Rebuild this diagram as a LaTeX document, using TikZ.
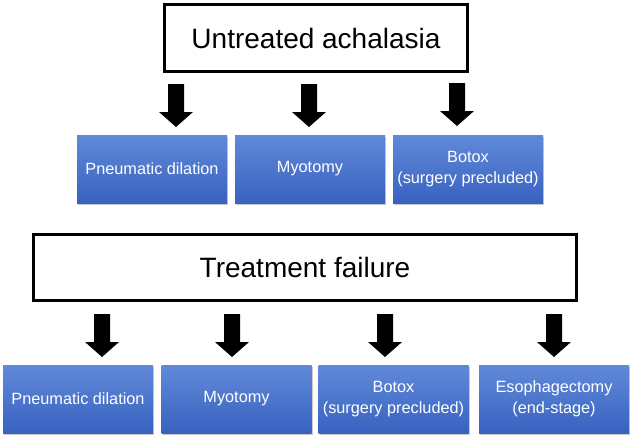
\documentclass[tikz,border=0pt]{standalone}
\usepackage{fontspec}
\setmainfont{Liberation Sans}
\usetikzlibrary{shadows}
\definecolor{boxtop}{HTML}{6189D9}
\definecolor{boxbot}{HTML}{3862C0}
\tikzset{
  titlebox/.style={draw=black, line width=3pt, fill=white, inner sep=0pt,
    font=\fontsize{28}{32}\selectfont},
  bluebox/.style={minimum width=150pt, minimum height=68pt, inner sep=0pt,
    top color=boxtop, bottom color=boxbot, text=white, align=center,
    font=\fontsize{16.3}{21}\selectfont,
    drop shadow={shadow xshift=1.2pt, shadow yshift=-1.5pt, opacity=0.35, fill=black!60}},
  downarrow/.pic={\fill[black] (-8,0) -- (8,0) -- (8,28) -- (17,28) -- (0,43)
    -- (-17,28) -- (-8,28) -- cycle;}
}
\begin{document}
\begin{tikzpicture}[x=1pt,y=-1pt]
\useasboundingbox (0,0) rectangle (633,439);
% top title
\node[titlebox, minimum width=303pt, minimum height=67pt] (t1) at (316,38) {Untreated achalasia};
% top boxes
\node[bluebox] (p1) at (152,169) {Pneumatic dilation};
\node[bluebox] (m1) at (310,169) {Myotomy};
\node[bluebox] (b1) at (468,169) {Botox\\(surgery precluded)};
% top arrows
\coordinate (a1) at (176,84);
\coordinate (a2) at (309,84);
\coordinate (a3) at (457,83);
\pic at (a1) {downarrow};
\pic at (a2) {downarrow};
\pic at (a3) {downarrow};
% bottom title
\node[titlebox, minimum width=543pt, minimum height=66pt] (t2) at (305,267.5) {Treatment failure};
% bottom boxes
\node[bluebox] (p2) at (78,399) {Pneumatic dilation};
\node[bluebox] (m2) at (236.5,399) {Myotomy};
\node[bluebox] (b2) at (393.5,399) {Botox\\(surgery precluded)};
\node[bluebox] (e2) at (554,399) {Esophagectomy\\(end-stage)};
% bottom arrows
\coordinate (c1) at (102,314);
\coordinate (c2) at (232,314);
\coordinate (c3) at (385,314);
\coordinate (c4) at (554,314);
\pic at (c1) {downarrow};
\pic at (c2) {downarrow};
\pic at (c3) {downarrow};
\pic at (c4) {downarrow};
\end{tikzpicture}
\end{document}
